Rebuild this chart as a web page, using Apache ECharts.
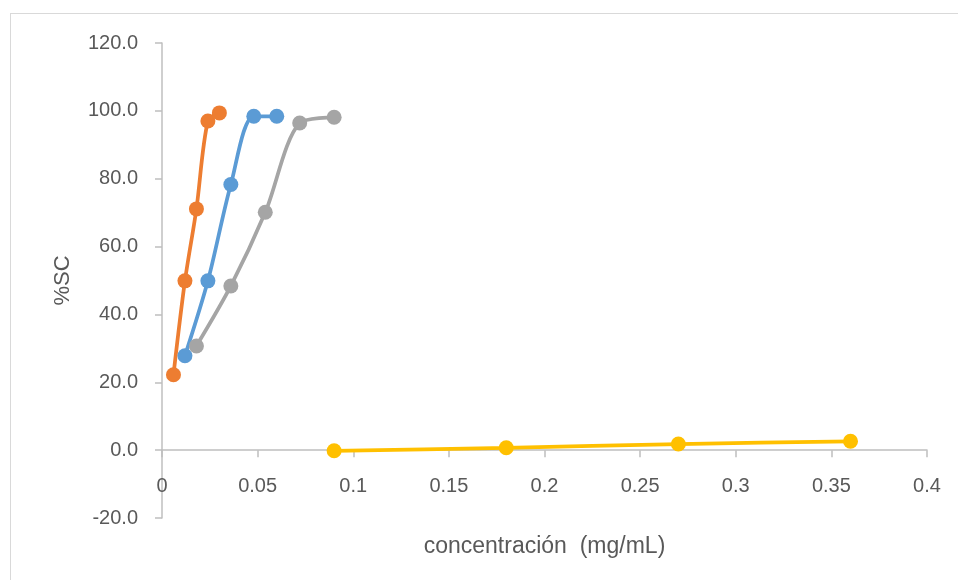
<!DOCTYPE html>
<html><head><meta charset="utf-8">
<script src="https://cdn.jsdelivr.net/npm/echarts@6/dist/echarts.min.js"></script>
<style>
html,body{margin:0;padding:0;background:#fff;overflow:hidden}
#frame{position:absolute;left:10px;top:13px;width:1000px;height:600px;border:1.5px solid #d9d9d9;box-sizing:border-box}
#c{position:absolute;left:0;top:0;width:958px;height:580px}
</style></head>
<body>
<div id="frame"></div>
<div id="c"></div>
<script>
var orangeX = [0.006, 0.012, 0.018, 0.024, 0.030];
var orangeY = [22.2, 49.9, 71.1, 97.0, 99.4];
var blueX = [0.012, 0.024, 0.036, 0.048, 0.060];
var blueY = [27.8, 49.9, 78.3, 98.4, 98.4];
var grayX = [0.018, 0.036, 0.054, 0.072, 0.090];
var grayY = [30.7, 48.4, 70.1, 96.4, 98.1];
var yellowX = [0.09, 0.18, 0.27, 0.36];
var yellowY = [-0.2, 0.7, 1.8, 2.6];
var xTitle = 'concentración  (mg/mL)';
var yTitle = '%SC';

function pairs(xs, ys){ return xs.map(function(x,i){ return [x, ys[i]]; }); }
function ser(xs, ys, color, smooth){
  return {type:'line', data:pairs(xs,ys), smooth:smooth, symbol:'circle', symbolSize:15,
    itemStyle:{color:color}, lineStyle:{color:color, width:3.75}, z:2};
}
var font = 'Liberation Sans';
var chart = echarts.init(document.getElementById('c'), null, {renderer:'canvas'});
chart.setOption({
  animation:false,
  backgroundColor:'transparent',
  grid:{left:162, right:31, top:43, bottom:62, containLabel:false, outerBoundsMode:'none'},
  xAxis:{type:'value', min:0, max:0.4, interval:0.05,
    name:xTitle, nameLocation:'middle', nameGap:17,
    nameTextStyle:{color:'#595959', fontSize:23, fontFamily:font},
    axisLine:{onZero:true, lineStyle:{color:'#bfbfbf', width:1.5}},
    axisTick:{show:true, length:7, lineStyle:{color:'#bfbfbf', width:1.5}},
    splitLine:{show:false},
    axisLabel:{color:'#595959', fontSize:20, fontFamily:font, margin:-42,
      formatter:function(v){ return String(+v.toFixed(2)); }}
  },
  yAxis:{type:'value', min:-20, max:120, interval:20,
    name:yTitle, nameLocation:'middle', nameGap:88, nameRotate:90,
    nameTextStyle:{color:'#595959', fontSize:22, fontFamily:font},
    axisLine:{show:true, lineStyle:{color:'#bfbfbf', width:1.5}},
    axisTick:{show:true, length:7, lineStyle:{color:'#bfbfbf', width:1.5}},
    splitLine:{show:false},
    axisLabel:{color:'#595959', fontSize:20, fontFamily:font, margin:24,
      formatter:function(v){ return v.toFixed(1); }}
  },
  series:[
    ser(orangeX, orangeY, '#ED7D31', 0.3),
    ser(blueX, blueY, '#5B9BD5', 0.3),
    ser(grayX, grayY, '#A5A5A5', 0.3),
    ser(yellowX, yellowY, '#FFC000', 0.2)
  ]
});
</script>
</body></html>
